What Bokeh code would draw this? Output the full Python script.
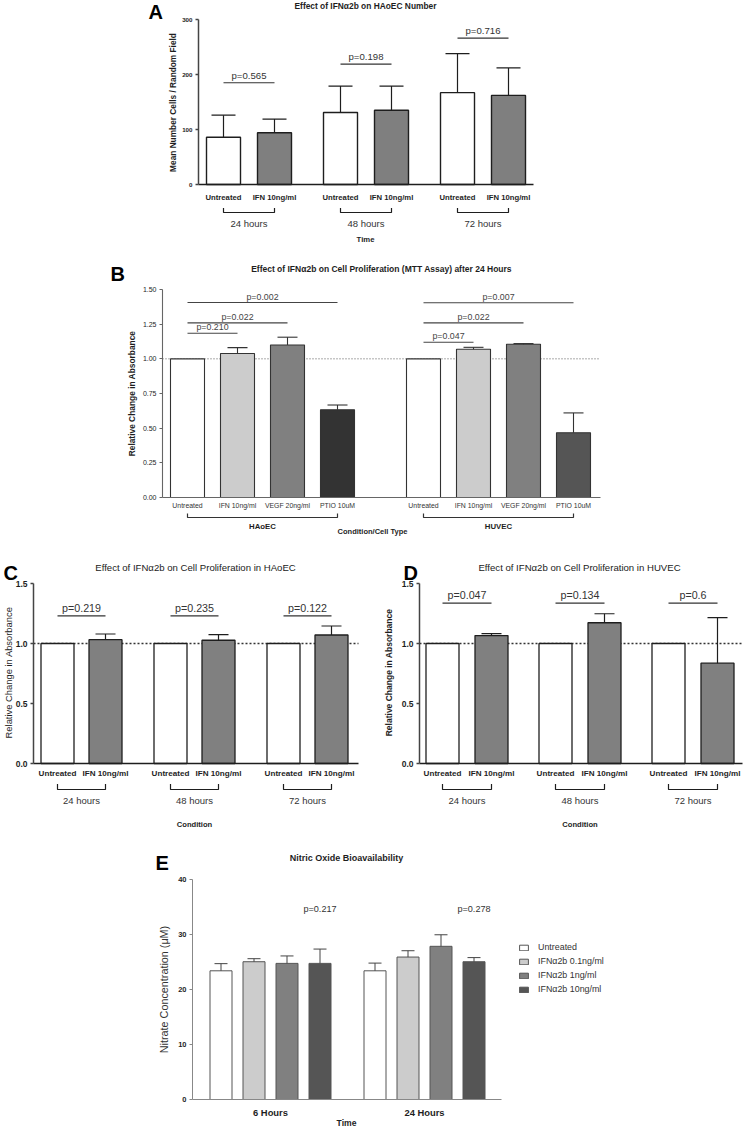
import math
from bokeh.plotting import figure
from bokeh.models import Range1d, FixedTicker, Label, Legend, LegendItem, NumeralTickFormatter
from bokeh.layouts import column, row
from bokeh.embed import file_html
from bokeh.resources import INLINE

FONT = "Liberation Sans"
INK = "#1e1e1e"

# ---------------- data ----------------
# Panel A: HAoEC number
a_groups = ["24 hours", "48 hours", "72 hours"]
a_conditions = ["Untreated", "IFN 10ng/ml"]
a_untreated = [86, 131, 167]
a_untreated_sem = [40, 48, 71]
a_ifn = [94, 135, 162]
a_ifn_sem = [25, 44, 50]
a_pvalues = ["p=0.565", "p=0.198", "p=0.716"]
a_p_levels = [185, 219, 266]
a_yticks = [0, 100, 200, 300]

# Panel B: MTT after 24 h
b_cells = ["HAoEC", "HUVEC"]
b_conditions = ["Untreated", "IFN 10ng/ml", "VEGF 20ng/ml", "PTIO 10uM"]
b_haoec = [1.0, 1.038, 1.10, 0.633]
b_haoec_sem = [0, 0.043, 0.056, 0.034]
b_huvec = [1.0, 1.069, 1.105, 0.467]
b_huvec_sem = [0, 0.014, 0.005, 0.143]
b_haoec_p = ["p=0.210", "p=0.022", "p=0.002"]
b_haoec_p_levels = [1.185, 1.259, 1.406]
b_huvec_p = ["p=0.047", "p=0.022", "p=0.007"]
b_huvec_p_levels = [1.12, 1.259, 1.404]
b_yticks = [0, 0.25, 0.5, 0.75, 1.0, 1.25, 1.5]

# Panels C and D: proliferation over time
cd_groups = ["24 hours", "48 hours", "72 hours"]
cd_conditions = ["Untreated", "IFN 10ng/ml"]
cd_yticks = [0, 0.5, 1.0, 1.5]
c_untreated = [1.0, 1.0, 1.0]
c_ifn = [1.032, 1.027, 1.071]
c_ifn_sem = [0.047, 0.047, 0.075]
c_pvalues = ["p=0.219", "p=0.235", "p=0.122"]
c_p_level = 1.231
d_untreated = [1.0, 1.0, 1.0]
d_ifn = [1.066, 1.173, 0.836]
d_ifn_sem = [0.016, 0.075, 0.379]
d_pvalues = ["p=0.047", "p=0.134", "p=0.6"]
d_p_level = 1.337

# Panel E: nitric oxide
e_times = ["6 Hours", "24 Hours"]
e_series = ["Untreated", "IFNα2b 0.1ng/ml", "IFNα2b 1ng/ml", "IFNα2b 10ng/ml"]
e_untreated = [23.4, 23.4]
e_untreated_sem = [1.3, 1.4]
e_ifn01 = [25.05, 25.9]
e_ifn01_sem = [0.55, 1.15]
e_ifn1 = [24.75, 27.85]
e_ifn1_sem = [1.35, 2.1]
e_ifn10 = [24.75, 25.05]
e_ifn10_sem = [2.6, 0.75]
e_pvalues = ["p=0.217", "p=0.278"]
e_p_level = 34.7
e_yticks = [0, 10, 20, 30, 40]


# ---------------- helpers ----------------
def make_fig(box, frame, yr):
    """Figure whose frame covers the whole canvas; axes sit at fixed locations."""
    X0, Y0, W, H = box
    L, R, T, B = frame
    lo, hi = yr
    k = (hi - lo) / (B - T)

    def X(ix):
        return ix - L

    def Y(iy):
        return hi - (iy - T) * k

    p = figure(width=W, height=H, x_range=Range1d(X(X0), X(X0 + W)),
               y_range=Range1d(Y(Y0 + H), Y(Y0)),
               output_backend="svg", toolbar_location=None, title=None, min_border=0)
    p.outline_line_color = None
    p.xgrid.visible = False
    p.ygrid.visible = False
    p.background_fill_color = "white"
    p.border_fill_color = "white"
    p.xaxis.fixed_location = lo
    p.yaxis.fixed_location = 0
    p.xaxis.bounds = (0, R - L)
    p.yaxis.bounds = (lo, hi)
    return p, X, Y, k


def label(p, x, y, text, size, bold=False, align="center", angle=0.0, color=INK):
    p.add_layout(Label(x=x, y=y, text=text, text_font=FONT, text_font_size=f"{size}px",
                       text_font_style="bold" if bold else "normal", text_align=align,
                       text_baseline="middle", angle=angle, text_color=color))


def bracket(p, x0, x1, ytop, ybot, color=INK, width=1.2):
    p.line(x=[x0, x0, x1, x1], y=[ytop, ybot, ybot, ytop], line_color=color, line_width=width)


def errbars(p, xs, means, sems, cap, color=INK, width=1.2):
    sel = [(x, m, s) for x, m, s in zip(xs, means, sems) if s > 0]
    if not sel:
        return
    xx = [a for a, _, _ in sel]
    mm = [b for _, b, _ in sel]
    tt = [b + c for _, b, c in sel]
    p.segment(x0=xx, y0=mm, x1=xx, y1=tt, line_color=color, line_width=width)
    p.segment(x0=[x - cap / 2 for x in xx], y0=tt, x1=[x + cap / 2 for x in xx], y1=tt,
              line_color=color, line_width=width)


def style_y(p, ticks, fmt, size, bold, color, lw, standoff=3, tick_out=3):
    ax = p.yaxis[0]
    ax.ticker = FixedTicker(ticks=ticks)
    ax.formatter = NumeralTickFormatter(format=fmt)
    ax.major_label_text_font = FONT
    ax.major_label_text_font_size = f"{size}px"
    ax.major_label_text_font_style = "bold" if bold else "normal"
    ax.major_label_text_color = INK
    ax.axis_line_color = color
    ax.axis_line_width = lw
    ax.major_tick_line_color = color
    ax.major_tick_line_width = lw
    ax.major_tick_out = tick_out
    ax.major_tick_in = 0
    ax.minor_tick_line_color = None
    ax.major_label_standoff = int(standoff)


def style_x(p, ticks, labels, size, bold, color, lw, standoff, label_color=INK):
    ax = p.xaxis[0]
    ax.ticker = FixedTicker(ticks=ticks)
    ax.major_label_overrides = {t: s for t, s in zip(ticks, labels)}
    ax.major_label_text_font = FONT
    ax.major_label_text_font_size = f"{size}px"
    ax.major_label_text_font_style = "bold" if bold else "normal"
    ax.major_label_text_color = label_color
    ax.axis_line_color = color
    ax.axis_line_width = lw
    ax.major_tick_line_color = None
    ax.major_tick_out = 0
    ax.major_tick_in = 0
    ax.minor_tick_line_color = None
    ax.minor_tick_out = 0
    ax.major_label_standoff = int(standoff)


# ---------------- Panel A ----------------
FA, YA = (198, 533, 19, 184), (0, 300)
pA, xA, yA, kA = make_fig((0, 0, 744, 245), FA, YA)
a_xu = [25 + g * 117 for g in range(len(a_groups))]
a_xi = [x + 51 for x in a_xu]
pA.vbar(x=a_xu, top=a_untreated, bottom=0, width=34, fill_color="white", line_color=INK, line_width=1.4)
pA.vbar(x=a_xi, top=a_ifn, bottom=0, width=34, fill_color="#7f7f7f", line_color=INK, line_width=1.4)
errbars(pA, a_xu, a_untreated, a_untreated_sem, 24)
errbars(pA, a_xi, a_ifn, a_ifn_sem, 24)
pA.segment(x0=a_xu, y0=a_p_levels, x1=a_xi, y1=a_p_levels, line_color="#333333", line_width=1.2)
for xu, xi, pv, lv in zip(a_xu, a_xi, a_pvalues, a_p_levels):
    label(pA, (xu + xi) / 2, lv + 7.5 * kA, pv, 9.6, color="#333333")
style_y(pA, a_yticks, "0", 6.2, True, "#444444", 1.5)
a_ticks, a_labels = [], []
for xu, xi in zip(a_xu, a_xi):
    a_ticks += [xu, xi]
    a_labels += a_conditions
style_x(pA, a_ticks, a_labels, 7.7, True, INK, 1.5, 8)
for xu, xi, g in zip(a_xu, a_xi, a_groups):
    bracket(pA, xu, xi, yA(207.5), yA(212))
    label(pA, (xu + xi) / 2, yA(222.5), g, 9.5, color="#333333")
label(pA, xA(148), yA(11), "A", 20, bold=True, align="left", color="#000000")
label(pA, xA(365), yA(5.5), "Effect of IFNα2b on HAoEC Number", 8.4, bold=True)
label(pA, xA(172), yA(102), "Mean Number Cells / Random Field", 8.3, bold=True, angle=math.pi / 2)
label(pA, xA(365), yA(238.5), "Time", 7.7, bold=True)

# ---------------- Panel B ----------------
FB, YB = (162, 600, 289, 497), (0, 1.5)
pB, xB, yB, kB = make_fig((0, 245, 744, 303), FB, YB)
pB.segment(x0=[0], y0=[1.0], x1=[FB[1] - FB[0]], y1=[1.0], line_color="#555555",
           line_dash="1 2", line_width=1)
b_xh = [25 + i * 50 for i in range(len(b_conditions))]
b_xv = [261 + i * 50 for i in range(len(b_conditions))]
pB.vbar(x=b_xh, top=b_haoec, bottom=0, width=34,
        fill_color=["#ffffff", "#cccccc", "#808080", "#333333"], line_color="#333333", line_width=1.1)
pB.vbar(x=b_xv, top=b_huvec, bottom=0, width=34,
        fill_color=["#ffffff", "#cccccc", "#808080", "#555555"], line_color="#333333", line_width=1.1)
errbars(pB, b_xh, b_haoec, b_haoec_sem, 20, color="#333333", width=1.1)
errbars(pB, b_xv, b_huvec, b_huvec_sem, 20, color="#333333", width=1.1)
for xs, pvals, levels in ((b_xh, b_haoec_p, b_haoec_p_levels), (b_xv, b_huvec_p, b_huvec_p_levels)):
    pB.segment(x0=[xs[0]] * 3, y0=levels, x1=xs[1:], y1=levels, line_color="#444444", line_width=1.1)
    for xe, pv, lv in zip(xs[1:], pvals, levels):
        label(pB, (xs[0] + xe) / 2, lv + 6 * kB, pv, 8.8, color="#444444")
style_y(pB, b_yticks, "0.00", 7, False, "#666666", 1.1)
style_x(pB, b_xh + b_xv, b_conditions + b_conditions, 6.9, False, "#666666", 1.1, 4,
        label_color="#333333")
for xs, cell in ((b_xh, b_cells[0]), (b_xv, b_cells[1])):
    bracket(pB, xs[0], xs[-1], yB(513), yB(517), color="#333333")
    label(pB, (xs[0] + xs[-1]) / 2, yB(525.5), cell, 7.8, bold=True)
label(pB, xB(110), yB(273.5), "B", 20, bold=True, align="left", color="#000000")
label(pB, xB(381), yB(268), "Effect of IFNα2b on Cell Proliferation (MTT Assay) after 24 Hours", 8.5, bold=True)
label(pB, xB(131), yB(393), "Relative Change in Absorbance", 8.4, bold=True, angle=math.pi / 2)
label(pB, xB(372), yB(530.5), "Condition/Cell Type", 7.5, bold=True)


# ---------------- Panels C and D ----------------
def panel_cd(box, frame, first, untreated, ifn, ifn_sem, pvals, plevel, letter, letter_x,
             title, title_x, ylab_x, ylab_bold, ylab_size):
    YCD = (0, 1.5)
    p, xf, yf, k = make_fig(box, frame, YCD)
    p.segment(x0=[0], y0=[1.0], x1=[frame[1] - frame[0]], y1=[1.0], line_color="#333333",
              line_dash="2 2", line_width=1.4)
    xu = [first + g * 113 for g in range(len(cd_groups))]
    xi = [x + 48 + (1 if first < 24 else 0) for x in xu]
    p.vbar(x=xu, top=untreated, bottom=0, width=33, fill_color="white", line_color=INK, line_width=1.3)
    p.vbar(x=xi, top=ifn, bottom=0, width=33, fill_color="#808080", line_color=INK, line_width=1.3)
    errbars(p, xi, ifn, ifn_sem, 20)
    p.segment(x0=xu, y0=[plevel] * 3, x1=xi, y1=[plevel] * 3, line_color="#333333", line_width=1.2)
    for a, b, pv in zip(xu, xi, pvals):
        label(p, (a + b) / 2, plevel + 8 * k, pv, 10.7, color="#333333")
    style_y(p, cd_yticks, "0.0", 8.5, True, "#444444", 1.5)
    ticks, labs = [], []
    for a, b in zip(xu, xi):
        ticks += [a, b]
        labs += cd_conditions
    style_x(p, ticks, labs, 8.1, True, INK, 1.5, 5)
    for a, b, g in zip(xu, xi, cd_groups):
        bracket(p, a, b, yf(783.5), yf(789))
        label(p, (a + b) / 2, yf(800), g, 9.5, color="#333333")
    label(p, (xu[1] + xi[1]) / 2, yf(823.5), "Condition", 7.6, bold=True)
    label(p, xf(letter_x), yf(572.5), letter, 20, bold=True, align="left", color="#000000")
    label(p, xf(title_x), yf(567), title, 9.6, color="#222222")
    label(p, xf(ylab_x), yf(672), "Relative Change in Absorbance", ylab_size, bold=ylab_bold,
          angle=math.pi / 2)
    return p


pC = panel_cd((0, 548, 372, 290), (33, 358, 583, 763), 24, c_untreated, c_ifn, c_ifn_sem,
              c_pvalues, c_p_level, "C", 3, "Effect of IFNα2b on Cell Proliferation in HAoEC", 195,
              7.5, False, 9.4)
pD = panel_cd((372, 548, 372, 290), (419, 742, 583, 763), 23, d_untreated, d_ifn, d_ifn_sem,
              d_pvalues, d_p_level, "D", 403, "Effect of IFNα2b on Cell Proliferation in HUVEC", 579,
              388, True, 8.5)

# ---------------- Panel E ----------------
FE, YE = (192, 501, 879, 1099), (0, 40)
pE, xE, yE, kE = make_fig((0, 838, 744, 289), FE, YE)
e_group_x = [78, 232]
e_offsets = [-49.5, -16.5, 16.5, 49.5]
e_fills = ["#ffffff", "#cccccc", "#808080", "#555555"]
e_vals = [e_untreated, e_ifn01, e_ifn1, e_ifn10]
e_sems = [e_untreated_sem, e_ifn01_sem, e_ifn1_sem, e_ifn10_sem]
e_renderers = []
for off, fc, vals, sems in zip(e_offsets, e_fills, e_vals, e_sems):
    xs = [g + off for g in e_group_x]
    r = pE.vbar(x=xs, top=vals, bottom=0, width=22, fill_color=fc, line_color="#555555", line_width=1)
    e_renderers.append(r)
    errbars(pE, xs, vals, sems, 13, color="#444444", width=1)
for g, pv in zip(e_group_x, e_pvalues):
    label(pE, g + e_offsets[-1], e_p_level, pv, 9.1, color="#333333")
style_y(pE, e_yticks, "0", 7.5, True, "#888888", 1)
style_x(pE, e_group_x, e_times, 9.4, True, "#888888", 1, 7)
legend = Legend(items=[LegendItem(label=n, renderers=[r]) for n, r in zip(e_series, e_renderers)],
                location=(518, 133), padding=0, margin=0, spacing=4, border_line_color=None,
                background_fill_alpha=0.0, glyph_width=11, glyph_height=7, label_height=7,
                label_standoff=9, label_text_font=FONT, label_text_font_size="8.9px",
                label_text_color="#333333")
pE.add_layout(legend)
label(pE, xE(155), yE(862.5), "E", 20, bold=True, align="left", color="#000000")
label(pE, xE(346), yE(857), "Nitric Oxide Bioavailability", 9, bold=True)
label(pE, xE(163), yE(989), "Nitrate Concentration (μM)", 10.8, angle=math.pi / 2, color="#333333")
label(pE, xE(346), yE(1122), "Time", 8.6, bold=True)

layout = column(pA, pB, row(pC, pD), pE)
open("out.html", "w").write(file_html(layout, INLINE))
